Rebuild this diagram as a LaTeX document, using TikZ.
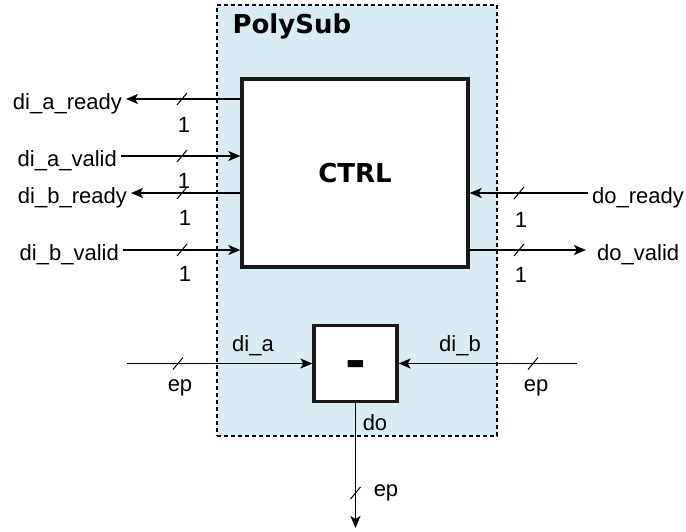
\documentclass[tikz,border=0pt]{standalone}
\usepackage{fontspec}
\setmainfont{Liberation Sans}
\newfontfamily\headfont{DejaVu Sans}
\usepackage{tikz}
\usetikzlibrary{arrows.meta}
\definecolor{polyblue}{RGB}{218,236,243}
% bus width mark on a wire
\newcommand{\busmark}[2]{\draw[line width=1pt] (#1-5,#2+6) -- (#1+5,#2-6);}

\begin{document}
\begin{tikzpicture}[x=1pt,y=-1pt,
    sig/.style={font=\fontsize{22}{24}\selectfont, text height=21pt, text depth=0pt, inner xsep=4pt, inner ysep=0pt},
    note/.style={font=\fontsize{22}{24}\selectfont, inner sep=0pt},
    head/.style={font=\headfont\bfseries\fontsize{26}{28}\selectfont},
    wire/.style={line width=1.5pt},
    sigarrow/.style={-{Stealth[length=12pt,width=10pt,inset=3pt]}},
    frame/.style={draw, fill=polyblue, line width=1.2pt, dash pattern=on 4pt off 3pt,
      minimum width=280pt, minimum height=431pt},
    block/.style={draw=black!90, fill=white, line width=3.3pt}]
    \useasboundingbox (0,0) rectangle (686,531);
    % Boxes
    \node[frame] (poly) at (357,220.5) {};
    \node[head, anchor=west] (title) at (229,26) {PolySub};
    \node[block, head, minimum width=226pt, minimum height=188pt] (ctrl) at (355,173) {CTRL};
    \node[block, head, font=\headfont\bfseries\fontsize{50}{50}\selectfont,
      minimum width=83pt, minimum height=76pt, text height=30pt, text depth=0pt] (sub) at (355.5,363.5) {-};
    % Handshake signals on the left
    \node[sig, anchor=east] (aready) at (126,99) {di\_a\_ready};
    \node[sig, anchor=east] (avalid) at (121,156) {di\_a\_valid};
    \node[sig, anchor=east] (bready) at (131,193) {di\_b\_ready};
    \node[sig, anchor=east] (bvalid) at (123,250) {di\_b\_valid};
    \draw[wire, sigarrow] (ctrl.west |- aready) -- (aready.east);
    \draw[wire, sigarrow] (avalid.east) -- (ctrl.west |- avalid);
    \draw[wire, sigarrow] (ctrl.west |- bready) -- (bready.east);
    \draw[wire, sigarrow] (bvalid.east) -- (ctrl.west |- bvalid);
    \busmark{182}{99} \busmark{182}{156} \busmark{182}{193} \busmark{182}{250}
    \node[note] (wa1) at (184,125) {1};
    \node[note] (wa2) at (184,181) {1};
    \node[note] (wb1) at (185,218) {1};
    \node[note] (wb2) at (185,274) {1};
    % Handshake signals on the right
    \node[sig, anchor=west] (oready) at (588,193) {do\_ready};
    \node[sig, anchor=west] (ovalid) at (593,250) {do\_valid};
    \draw[wire, sigarrow] (oready.west) -- (ctrl.east |- oready);
    \draw[wire, sigarrow, shorten >=7pt] (ctrl.east |- ovalid) -- (ovalid.west);
    \busmark{519}{193} \busmark{519}{250}
    \node[note] (wo1) at (521,220) {1};
    \node[note] (wo2) at (521,275) {1};
    % Data path
    \coordinate (ain) at (127,363.5);
    \coordinate (bin) at (577,363.5);
    \coordinate (dout) at (355.5,528);
    \draw[wire, sigarrow] (ain) -- (sub.west);
    \draw[wire, sigarrow] (bin) -- (sub.east);
    \draw[wire, sigarrow] (sub.south) -- (dout);
    \busmark{178}{363.5} \busmark{533}{363.5} \busmark{355.5}{493}
    \node[note] (dia) at (253,346) {di\_a};
    \node[note] (dib) at (460,346) {di\_b};
    \node[note] (dol) at (375,423) {do};
    \node[note] (epa) at (180,388) {ep};
    \node[note] (epb) at (536,388) {ep};
    \node[note] (epo) at (386,493) {ep};
\end{tikzpicture}
\end{document}
